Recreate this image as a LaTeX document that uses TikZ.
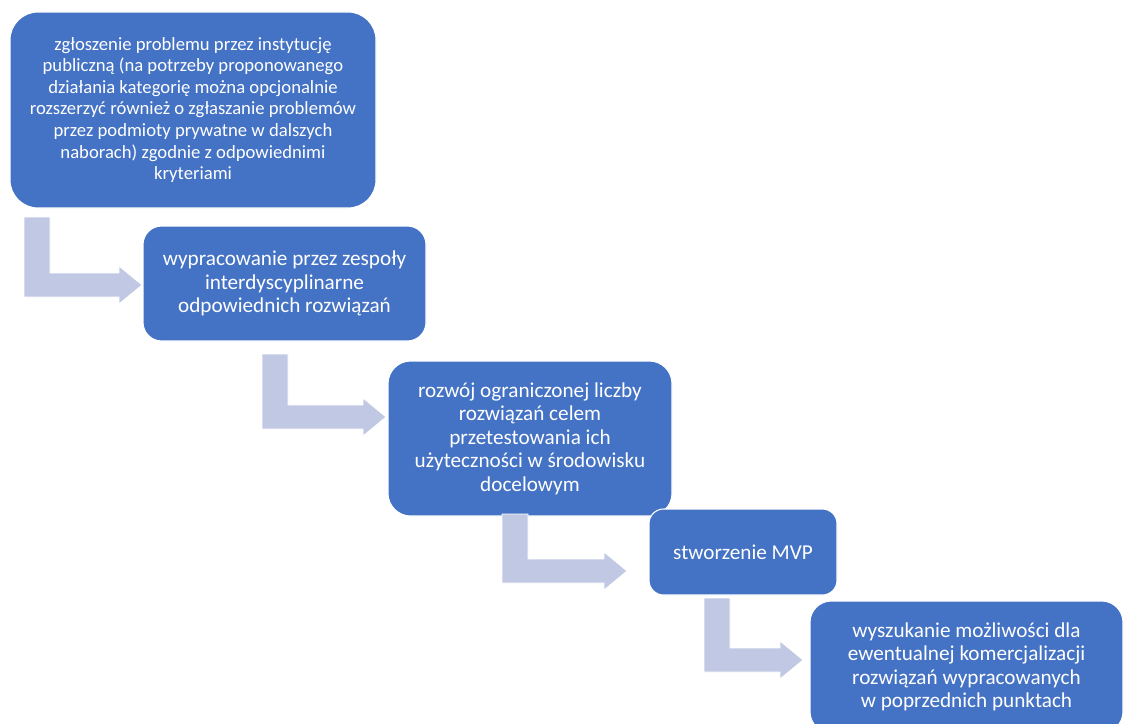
\documentclass[tikz,border=0pt]{standalone}
\usepackage{fontspec}
\setmainfont{Carlito}
\usepackage{tikz}
\usetikzlibrary{calc}
\definecolor{StepBlue}{HTML}{4472C4}
\definecolor{ArrowSoft}{HTML}{C0C8E4}
\tikzset{
  stepbox/.style={draw=white,line width=0.8pt,fill=StepBlue,text=white,align=center,inner sep=0pt},
  smalltext/.style={font=\fontsize{14}{16.2}\selectfont},
  bigtext/.style={font=\fontsize{15.9}{17.6}\selectfont},
  bent/.style={draw=white,line width=0.6pt,fill=ArrowSoft}
}
% stem top-left, tip
\newcommand{\bentarrow}[2]{%
  \draw[bent] (#1) -- ++(26,0) |- ($(#2)+(-23,-12)$) -- ++(0,-7) -- (#2) -- ++(-23,19) -- ++(0,-7) -- ($(#1|-#2)+(0,12)$) -- cycle;}
\begin{document}
\begin{tikzpicture}[x=0.75pt,y=-0.75pt]
\useasboundingbox (0,0) rectangle (1124,724);
\clip (0,0) rectangle (1124,724);
\node[stepbox,smalltext,minimum width=366*0.75pt,minimum height=196*0.75pt,rounded corners=21pt] (b1) at (193,110)
  {zgłoszenie problemu przez instytucję\\publiczną (na potrzeby proponowanego\\działania kategorię można opcjonalnie\\rozszerzyć również o zgłaszanie problemów\\przez podmioty prywatne w dalszych\\naborach) zgodnie z odpowiednimi\\kryteriami};
\node[stepbox,bigtext,minimum width=283*0.75pt,minimum height=115*0.75pt,rounded corners=14pt] (b2) at (284.5,283.5)
  {wypracowanie przez zespoły\\interdyscyplinarne\\odpowiednich rozwiązań};
\node[stepbox,bigtext,minimum width=284*0.75pt,minimum height=155*0.75pt,rounded corners=17pt] (b3) at (530,438.5)
  {rozwój ograniczonej liczby\\rozwiązań celem\\przetestowania ich\\użyteczności w środowisku\\docelowym};
\node[stepbox,bigtext,minimum width=188*0.75pt,minimum height=86*0.75pt,rounded corners=11pt] (b4) at (743,552)
  {stworzenie MVP};
\node[stepbox,bigtext,minimum width=313*0.75pt,minimum height=132*0.75pt,rounded corners=16pt] (b5) at (966.5,667)
  {wyszukanie możliwości dla\\ewentualnej komercjalizacji\\rozwiązań wypracowanych\\w poprzednich punktach};
% bent arrows between the steps
\coordinate (s1) at (24,217);  \coordinate (t1) at (142,285);
\coordinate (s2) at (262,354); \coordinate (t2) at (386,417);
\coordinate (s3) at (502,514); \coordinate (t3) at (627,571);
\coordinate (s4) at (704,598); \coordinate (t4) at (803,660);
\bentarrow{s1}{t1}
\bentarrow{s2}{t2}
\bentarrow{s3}{t3}
\bentarrow{s4}{t4}
\end{tikzpicture}
\end{document}
